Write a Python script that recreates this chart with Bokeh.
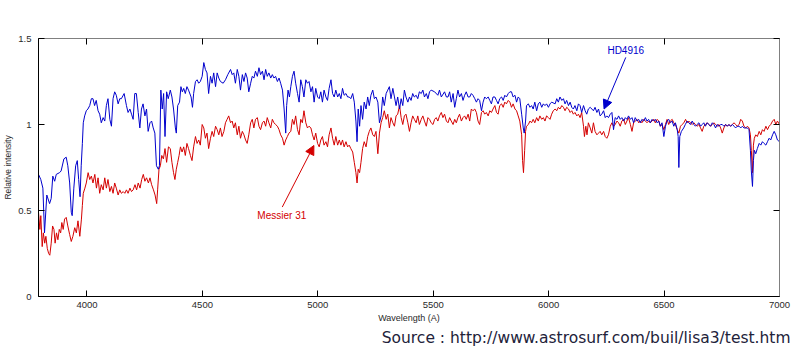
from bokeh.plotting import figure
from bokeh.models import Range1d, FixedTicker, LinearAxis, Arrow, NormalHead, Title, ColumnDataSource
from bokeh.core.properties import value
from bokeh.embed import file_html
from bokeh.resources import INLINE

# HD4916 (blue) spectrum: wavelength (A), relative intensity
hd_wl = [3790, 3800, 3809, 3816, 3826, 3838, 3845, 3852, 3860, 3867, 3881, 3888, 3900, 3910, 3917, 3925,
         3932, 3936, 3943, 3951, 3958, 3964, 3970, 3975, 3980, 3984, 3990, 3997, 4004, 4012, 4019, 4026,
         4033, 4040, 4048, 4055, 4062, 4070, 4077, 4084, 4091, 4099, 4106, 4113, 4120, 4127, 4135, 4142,
         4149, 4161, 4171, 4178, 4186, 4193, 4200, 4207, 4214, 4222, 4229, 4236, 4243, 4251, 4258, 4265,
         4273, 4280, 4287, 4294, 4301, 4309, 4314, 4320, 4326, 4332, 4338, 4345, 4352, 4361, 4368, 4375,
         4383, 4387, 4393, 4401, 4407, 4413, 4419, 4426, 4433, 4440, 4451, 4457, 4462, 4470, 4477, 4484,
         4491, 4499, 4506, 4513, 4520, 4527, 4535, 4542, 4549, 4557, 4564, 4571, 4578, 4590, 4600, 4610,
         4622, 4629, 4636, 4643, 4651, 4658, 4665, 4673, 4680, 4687, 4694, 4701, 4709, 4716, 4723, 4730,
         4738, 4745, 4752, 4760, 4767, 4774, 4781, 4788, 4796, 4803, 4810, 4817, 4825, 4832, 4839, 4847,
         4854, 4861, 4865, 4871, 4877, 4883, 4890, 4897, 4904, 4912, 4919, 4926, 4933, 4940, 4948, 4955,
         4962, 4970, 4977, 4984, 4991, 4999, 5006, 5013, 5020, 5027, 5035, 5042, 5049, 5057, 5064, 5071,
         5078, 5086, 5093, 5100, 5107, 5114, 5122, 5129, 5136, 5143, 5151, 5158, 5165, 5170, 5175, 5181,
         5187, 5194, 5201, 5209, 5216, 5223, 5230, 5238, 5245, 5252, 5260, 5267, 5274, 5281, 5288, 5296,
         5303, 5310, 5317, 5325, 5332, 5339, 5346, 5354, 5361, 5368, 5375, 5382, 5390, 5397, 5404, 5411,
         5418, 5426, 5433, 5440, 5448, 5455, 5462, 5470, 5477, 5484, 5491, 5506, 5520, 5527, 5535, 5549,
         5557, 5564, 5571, 5578, 5586, 5593, 5600, 5607, 5614, 5622, 5629, 5636, 5643, 5651, 5658, 5665,
         5672, 5680, 5687, 5694, 5701, 5709, 5716, 5723, 5730, 5738, 5745, 5752, 5759, 5767, 5774, 5781,
         5788, 5796, 5803, 5810, 5817, 5825, 5832, 5839, 5846, 5854, 5861, 5868, 5875, 5883, 5890, 5894,
         5900, 5904, 5912, 5919, 5926, 5933, 5940, 5948, 5955, 5962, 5970, 5977, 5984, 5991, 5999, 6006,
         6013, 6028, 6035, 6042, 6049, 6057, 6064, 6071, 6078, 6086, 6093, 6100, 6107, 6114, 6122, 6129,
         6136, 6143, 6151, 6158, 6165, 6172, 6180, 6187, 6194, 6201, 6209, 6216, 6223, 6230, 6238, 6245,
         6252, 6259, 6267, 6274, 6281, 6288, 6296, 6303, 6310, 6317, 6325, 6332, 6339, 6346, 6354, 6361,
         6368, 6375, 6383, 6390, 6397, 6404, 6412, 6419, 6426, 6433, 6440, 6448, 6455, 6462, 6470, 6477,
         6484, 6491, 6499, 6506, 6513, 6520, 6527, 6535, 6542, 6549, 6557, 6561, 6564, 6568, 6575, 6585,
         6592, 6600, 6607, 6614, 6622, 6629, 6636, 6643, 6651, 6658, 6665, 6672, 6679, 6687, 6694, 6701,
         6709, 6716, 6723, 6730, 6738, 6745, 6752, 6759, 6767, 6774, 6781, 6788, 6796, 6803, 6810, 6817,
         6825, 6832, 6839, 6846, 6854, 6861, 6868, 6874, 6878, 6883, 6887, 6891, 6897, 6904, 6912, 6919,
         6926, 6933, 6941, 6948, 6955, 6962, 6970, 6977, 6984, 6991, 7000]
hd_int = [0.71, 0.68, 0.63, 0.37, 0.59, 0.54, 0.57, 0.70, 0.67, 0.71, 0.72, 0.73, 0.80, 0.81, 0.76, 0.66,
          0.49, 0.47, 0.63, 0.76, 0.79, 0.68, 0.58, 0.76, 0.89, 1.01, 1.05, 1.08, 1.09, 1.11, 1.15, 1.15,
          1.11, 1.14, 1.08, 1.06, 1.01, 1.04, 1.02, 1.11, 1.15, 1.03, 0.99, 1.15, 1.19, 1.17, 1.12, 1.15,
          1.15, 1.18, 1.11, 1.07, 1.09, 1.06, 1.03, 1.18, 1.18, 1.07, 0.98, 1.09, 1.12, 1.05, 1.09, 0.96,
          1.01, 1.02, 0.98, 0.95, 0.76, 0.74, 0.76, 1.20, 1.09, 1.18, 0.93, 1.19, 1.15, 1.20, 1.16, 1.09,
          0.98, 0.95, 1.11, 1.13, 1.22, 1.19, 1.21, 1.18, 1.22, 1.20, 1.16, 1.10, 1.18, 1.25, 1.26, 1.24,
          1.25, 1.28, 1.36, 1.32, 1.30, 1.18, 1.28, 1.24, 1.30, 1.22, 1.30, 1.27, 1.25, 1.24, 1.26, 1.29,
          1.32, 1.29, 1.30, 1.24, 1.32, 1.28, 1.20, 1.29, 1.25, 1.30, 1.27, 1.19, 1.24, 1.28, 1.27, 1.31,
          1.28, 1.33, 1.29, 1.31, 1.26, 1.32, 1.28, 1.30, 1.27, 1.29, 1.27, 1.28, 1.25, 1.27, 1.24, 1.20,
          1.09, 0.95, 1.11, 1.20, 1.16, 1.22, 1.28, 1.31, 1.24, 1.18, 1.13, 1.26, 1.22, 1.16, 1.26, 1.24,
          1.25, 1.19, 1.22, 1.13, 1.21, 1.16, 1.15, 1.19, 1.13, 1.20, 1.16, 1.14, 1.21, 1.26, 1.18, 1.16,
          1.20, 1.16, 1.18, 1.15, 1.21, 1.17, 1.18, 1.16, 1.16, 1.15, 1.18, 1.13, 1.02, 0.90, 1.09, 0.99,
          1.11, 1.03, 1.13, 1.09, 1.16, 1.11, 1.17, 1.20, 1.15, 1.16, 1.13, 1.01, 1.05, 1.16, 1.11, 1.18,
          1.20, 1.22, 1.15, 1.21, 1.16, 1.11, 1.16, 1.09, 1.15, 1.11, 1.20, 1.16, 1.13, 1.16, 1.14, 1.18,
          1.16, 1.17, 1.15, 1.19, 1.18, 1.20, 1.16, 1.18, 1.15, 1.19, 1.20, 1.19, 1.17, 1.20, 1.16, 1.19,
          1.16, 1.16, 1.19, 1.13, 1.18, 1.10, 1.15, 1.20, 1.16, 1.18, 1.14, 1.17, 1.19, 1.16, 1.16, 1.18,
          1.17, 1.15, 1.13, 1.15, 1.14, 1.08, 1.13, 1.16, 1.15, 1.16, 1.14, 1.12, 1.16, 1.16, 1.14, 1.12,
          1.15, 1.16, 1.14, 1.17, 1.16, 1.18, 1.19, 1.19, 1.16, 1.17, 1.13, 1.16, 1.15, 1.06, 0.98, 0.95,
          1.02, 1.11, 1.12, 1.10, 1.11, 1.09, 1.13, 1.08, 1.12, 1.13, 1.10, 1.12, 1.11, 1.12, 1.10, 1.12,
          1.13, 1.12, 1.15, 1.13, 1.16, 1.14, 1.15, 1.12, 1.14, 1.11, 1.13, 1.10, 1.09, 1.11, 1.08, 1.12,
          1.11, 1.07, 1.11, 1.08, 1.06, 1.09, 1.10, 1.09, 1.08, 1.10, 1.07, 1.09, 1.05, 1.06, 1.08, 1.04,
          1.05, 1.04, 1.06, 1.07, 0.97, 1.04, 1.03, 1.05, 1.03, 1.04, 1.02, 1.04, 1.03, 1.05, 1.03, 1.04,
          1.01, 1.04, 1.02, 1.03, 1.01, 1.03, 1.02, 1.04, 1.02, 1.03, 1.01, 1.03, 1.02, 1.03, 1.01, 1.02,
          0.99, 1.01, 0.93, 0.99, 1.02, 1.03, 1.01, 1.02, 0.99, 1.01, 0.97, 0.93, 0.75, 0.93, 0.96, 0.98,
          1.00, 1.02, 1.01, 1.00, 1.02, 1.00, 0.99, 1.00, 1.01, 0.99, 1.00, 1.01, 0.99, 1.01, 1.00, 0.99,
          1.01, 1.00, 0.98, 1.00, 0.99, 1.00, 1.00, 0.99, 1.00, 0.99, 1.00, 0.99, 1.00, 0.99, 0.98, 0.99,
          0.99, 0.98, 0.99, 0.98, 0.98, 0.98, 0.97, 0.85, 0.73, 0.64, 0.79, 0.85, 0.83, 0.86, 0.89, 0.88,
          0.90, 0.89, 0.88, 0.90, 0.92, 0.91, 0.94, 0.96, 0.94, 0.91, 0.90]

# Messier 31 (red) spectrum
m31_wl = [3790, 3796, 3800, 3806, 3811, 3817, 3822, 3828, 3834, 3839, 3845, 3851, 3857, 3862, 3868, 3874,
          3880, 3886, 3891, 3897, 3903, 3910, 3917, 3925, 3932, 3939, 3947, 3954, 3961, 3969, 3976, 3980,
          3984, 3991, 3997, 4005, 4012, 4019, 4026, 4034, 4041, 4048, 4055, 4062, 4070, 4077, 4084, 4091,
          4099, 4106, 4113, 4120, 4127, 4135, 4142, 4149, 4157, 4164, 4171, 4178, 4186, 4193, 4200, 4208,
          4215, 4222, 4230, 4237, 4244, 4251, 4258, 4266, 4273, 4280, 4288, 4295, 4302, 4306, 4312, 4318,
          4324, 4331, 4338, 4345, 4353, 4361, 4368, 4375, 4381, 4387, 4393, 4399, 4405, 4412, 4419, 4426,
          4433, 4440, 4448, 4455, 4462, 4470, 4477, 4484, 4491, 4499, 4506, 4513, 4520, 4527, 4535, 4542,
          4549, 4557, 4564, 4571, 4578, 4585, 4593, 4600, 4607, 4614, 4622, 4629, 4636, 4643, 4651, 4658,
          4665, 4673, 4680, 4687, 4694, 4701, 4709, 4716, 4723, 4730, 4738, 4745, 4752, 4760, 4767, 4774,
          4781, 4788, 4796, 4803, 4810, 4817, 4825, 4832, 4839, 4847, 4854, 4861, 4868, 4875, 4883, 4890,
          4897, 4904, 4912, 4919, 4926, 4933, 4940, 4948, 4955, 4962, 4970, 4977, 4984, 4991, 4999, 5006,
          5013, 5020, 5027, 5035, 5042, 5049, 5057, 5064, 5071, 5078, 5086, 5093, 5100, 5107, 5114, 5122,
          5129, 5136, 5143, 5151, 5158, 5165, 5170, 5175, 5181, 5187, 5194, 5201, 5209, 5216, 5223, 5230,
          5238, 5245, 5252, 5260, 5267, 5274, 5281, 5288, 5296, 5303, 5310, 5317, 5325, 5332, 5339, 5346,
          5354, 5361, 5368, 5375, 5382, 5390, 5397, 5404, 5411, 5418, 5426, 5433, 5440, 5448, 5455, 5462,
          5470, 5477, 5484, 5491, 5499, 5506, 5513, 5520, 5527, 5535, 5542, 5549, 5557, 5564, 5571, 5578,
          5586, 5593, 5600, 5607, 5614, 5622, 5629, 5636, 5643, 5651, 5658, 5665, 5672, 5680, 5687, 5694,
          5701, 5709, 5716, 5723, 5730, 5738, 5745, 5752, 5759, 5767, 5774, 5781, 5788, 5796, 5803, 5810,
          5817, 5825, 5832, 5839, 5846, 5854, 5861, 5868, 5875, 5883, 5887, 5891, 5896, 5900, 5904, 5912,
          5919, 5926, 5933, 5940, 5948, 5955, 5962, 5970, 5977, 5984, 5991, 5999, 6006, 6013, 6020, 6028,
          6035, 6042, 6049, 6057, 6064, 6071, 6078, 6086, 6093, 6100, 6107, 6114, 6122, 6129, 6136, 6143,
          6151, 6155, 6161, 6166, 6172, 6180, 6187, 6194, 6201, 6209, 6216, 6223, 6230, 6238, 6245, 6252,
          6259, 6267, 6274, 6281, 6288, 6296, 6303, 6310, 6317, 6325, 6332, 6339, 6346, 6354, 6361, 6368,
          6375, 6383, 6390, 6397, 6404, 6412, 6419, 6426, 6433, 6440, 6448, 6455, 6462, 6470, 6477, 6484,
          6491, 6499, 6506, 6513, 6520, 6527, 6535, 6542, 6549, 6557, 6564, 6571, 6578, 6586, 6593, 6600,
          6607, 6614, 6622, 6629, 6636, 6643, 6651, 6658, 6665, 6672, 6679, 6687, 6694, 6701, 6709, 6716,
          6723, 6730, 6738, 6745, 6752, 6759, 6767, 6774, 6781, 6788, 6796, 6803, 6810, 6817, 6825, 6832,
          6839, 6846, 6854, 6861, 6868, 6874, 6878, 6883, 6887, 6891, 6897, 6904, 6912, 6919, 6926, 6933,
          6941, 6948, 6955, 6962, 6970, 6977, 6984, 6991, 7000]
m31_int = [0.49, 0.39, 0.47, 0.29, 0.37, 0.31, 0.35, 0.28, 0.25, 0.24, 0.31, 0.41, 0.39, 0.31, 0.37, 0.33,
           0.39, 0.37, 0.43, 0.39, 0.45, 0.46, 0.41, 0.36, 0.32, 0.35, 0.40, 0.37, 0.44, 0.35, 0.45, 0.53,
           0.60, 0.63, 0.66, 0.72, 0.68, 0.70, 0.66, 0.71, 0.63, 0.69, 0.60, 0.65, 0.62, 0.69, 0.63, 0.68,
           0.61, 0.64, 0.60, 0.66, 0.63, 0.59, 0.62, 0.60, 0.61, 0.60, 0.62, 0.60, 0.63, 0.61, 0.62, 0.65,
           0.62, 0.66, 0.63, 0.68, 0.71, 0.67, 0.69, 0.66, 0.69, 0.65, 0.62, 0.59, 0.54, 0.62, 0.74, 0.76,
           0.82, 0.80, 0.86, 0.78, 0.87, 0.86, 0.78, 0.72, 0.68, 0.74, 0.78, 0.82, 0.87, 0.84, 0.87, 0.82,
           0.89, 0.86, 0.82, 0.79, 0.87, 0.93, 0.89, 0.91, 0.88, 1.00, 0.98, 0.92, 0.95, 0.86, 0.92, 0.96,
           0.93, 0.99, 0.97, 0.94, 0.98, 0.93, 0.96, 1.01, 1.03, 1.05, 1.01, 1.02, 0.98, 1.01, 0.94, 0.99,
           0.92, 0.96, 0.94, 0.91, 0.89, 0.94, 1.01, 1.03, 0.98, 1.03, 1.04, 0.99, 0.97, 1.01, 1.02, 0.99,
           1.04, 1.01, 0.98, 1.03, 1.01, 1.00, 0.99, 0.97, 0.94, 0.92, 0.88, 0.91, 0.93, 0.95, 0.96, 1.03,
           1.00, 1.05, 0.97, 0.94, 1.03, 1.01, 1.08, 1.01, 0.98, 0.99, 0.98, 0.94, 0.91, 0.95, 0.89, 0.87,
           0.91, 0.93, 0.88, 0.90, 0.87, 0.94, 0.98, 0.92, 0.88, 0.93, 0.88, 0.91, 0.88, 0.91, 0.87, 0.90,
           0.87, 0.88, 0.86, 0.84, 0.78, 0.72, 0.66, 0.74, 0.72, 0.78, 0.86, 0.90, 0.87, 0.93, 0.96, 0.98,
           0.94, 0.93, 0.96, 0.83, 0.95, 1.01, 1.04, 1.08, 1.03, 1.06, 0.98, 1.04, 1.01, 0.99, 1.05, 1.06,
           1.11, 1.04, 1.00, 1.05, 1.06, 1.01, 0.96, 1.01, 1.05, 1.03, 1.01, 1.05, 1.00, 1.03, 1.05, 1.02,
           0.99, 1.04, 1.03, 1.01, 1.00, 1.03, 1.04, 1.02, 1.05, 1.07, 1.04, 1.06, 1.02, 1.01, 1.04, 1.02,
           1.00, 1.03, 1.01, 1.04, 1.06, 1.02, 1.04, 1.05, 1.03, 1.06, 1.02, 1.09, 1.08, 1.09, 1.07, 1.02,
           1.00, 1.07, 1.08, 1.06, 1.07, 1.05, 1.08, 1.07, 1.09, 1.11, 1.07, 1.06, 1.11, 1.12, 1.10, 1.13,
           1.12, 1.14, 1.13, 1.10, 1.12, 1.09, 1.08, 1.05, 1.02, 0.94, 0.79, 0.72, 0.85, 0.96, 0.99, 1.00,
           1.02, 1.01, 1.03, 1.01, 1.04, 1.02, 1.05, 1.03, 1.04, 1.02, 1.05, 1.04, 1.03, 1.06, 1.08, 1.09,
           1.08, 1.10, 1.09, 1.11, 1.10, 1.08, 1.10, 1.09, 1.07, 1.08, 1.06, 1.07, 1.05, 1.06, 1.04, 1.07,
           0.99, 0.93, 0.99, 0.94, 1.01, 0.98, 0.95, 1.01, 0.96, 0.94, 0.95, 0.96, 0.94, 0.96, 0.93, 0.92,
           0.94, 0.99, 1.01, 0.99, 1.00, 1.02, 1.01, 0.99, 1.02, 1.03, 1.00, 1.02, 1.04, 1.00, 0.96, 1.01,
           1.02, 1.03, 1.01, 1.02, 1.01, 1.03, 1.02, 1.01, 1.02, 1.01, 1.02, 1.03, 1.01, 1.03, 1.02, 0.99,
           1.00, 0.97, 1.00, 1.03, 1.00, 1.02, 1.03, 1.01, 1.00, 0.97, 0.95, 0.99, 1.00, 1.01, 1.03, 1.01,
           1.02, 1.01, 1.00, 1.01, 1.00, 0.99, 1.00, 0.98, 0.96, 0.99, 1.00, 1.01, 1.00, 0.99, 1.00, 1.01,
           1.00, 0.99, 1.00, 0.98, 0.95, 0.98, 1.00, 0.99, 1.00, 0.99, 1.00, 1.01, 1.00, 0.99, 1.00, 1.03,
           1.02, 0.99, 0.98, 0.99, 0.98, 0.94, 0.85, 0.72, 0.88, 0.92, 0.94, 0.93, 0.96, 0.94, 0.97, 0.96,
           0.99, 0.97, 0.99, 1.00, 1.02, 1.03, 1.00, 1.02, 1.00]

x_ticks = [4000, 4500, 5000, 5500, 6000, 6500, 7000]
y_ticks = [0, 0.5, 1, 1.5]
y_tick_labels = ["0", "0.5", "1", "1.5"]

BLUE = "#0000cc"
RED = "#d40000"
FONT = "Liberation Sans"

p = figure(width=800, height=352, x_range=Range1d(3790, 7000), y_range=Range1d(0, 1.5),
           output_backend="svg", toolbar_location=None,
           min_border_left=38, min_border_right=21, min_border_top=38, min_border_bottom=56)
p.background_fill_color = "white"
p.border_fill_color = "white"
p.outline_line_color = "#808080"
p.xgrid.visible = False
p.ygrid.visible = False

p.line(m31_wl, m31_int, line_color=RED, line_width=1)
p.line(hd_wl, hd_int, line_color=BLUE, line_width=1)

def style_axis(ax, show_labels=True, line_color="black"):
    ax.major_tick_in = 6
    ax.major_tick_out = 0
    ax.minor_tick_line_color = None
    ax.axis_line_color = line_color
    ax.major_tick_line_color = "black"
    ax.major_label_text_font = FONT
    ax.major_label_text_font_size = "9.5px"
    if show_labels:
        ax.major_label_text_color = "#2a2a2a"
        ax.major_label_standoff = 5
        ax.axis_label_text_font = FONT
        ax.axis_label_text_font_size = "9px"
        ax.axis_label_text_font_style = "normal"
        ax.axis_label_text_color = "#2a2a2a"
        ax.axis_label_standoff = 2
    else:
        ax.major_label_text_color = None
        ax.major_label_standoff = 0

xax = p.xaxis[0]
xax.ticker = FixedTicker(ticks=x_ticks)
xax.axis_label = "Wavelength (A)"
style_axis(xax)

yax = p.yaxis[0]
yax.ticker = FixedTicker(ticks=y_ticks)
yax.major_label_overrides = {t: s for t, s in zip(y_ticks, y_tick_labels)}
yax.axis_label = "Relative intensity"
style_axis(yax)
yax.major_label_standoff = 7
yax.axis_label_standoff = 2
yax.axis_label_text_font_size = "8.5px"

top = LinearAxis(ticker=FixedTicker(ticks=x_ticks))
style_axis(top, show_labels=False, line_color="#808080")
p.add_layout(top, "above")
right = LinearAxis(ticker=FixedTicker(ticks=y_ticks))
style_axis(right, show_labels=False, line_color="#808080")
p.add_layout(right, "right")

# Annotations
hd_label = dict(x=[6334], y=[1.43], text=["HD4916"])
m31_label = dict(x=[4844], y=[0.471], text=["Messier 31"])
p.text(x="x", y="y", text="text", source=ColumnDataSource(hd_label), text_color=BLUE,
       text_font=value(FONT), text_font_size="10px", text_align="center", text_baseline="middle")
p.text(x="x", y="y", text="text", source=ColumnDataSource(m31_label), text_color=RED,
       text_font=value(FONT), text_font_size="10px", text_align="center", text_baseline="middle")

p.add_layout(Arrow(end=NormalHead(size=9, fill_color=BLUE, line_color=BLUE),
                   x_start=6334, y_start=1.39, x_end=6240, y_end=1.09,
                   line_color=BLUE, line_width=1))
p.add_layout(Arrow(end=NormalHead(size=9, fill_color=RED, line_color=RED),
                   x_start=4846, y_start=0.52, x_end=4983, y_end=0.878,
                   line_color=RED, line_width=1))

src = Title(text="Source : http://www.astrosurf.com/buil/lisa3/test.htm", align="right",
            text_font="DejaVu Sans", text_font_size="15.5px", text_font_style="normal",
            text_color="#22223a", offset=-11, standoff=2)
p.add_layout(src, "below")

open("out.html", "w").write(file_html(p, INLINE))
